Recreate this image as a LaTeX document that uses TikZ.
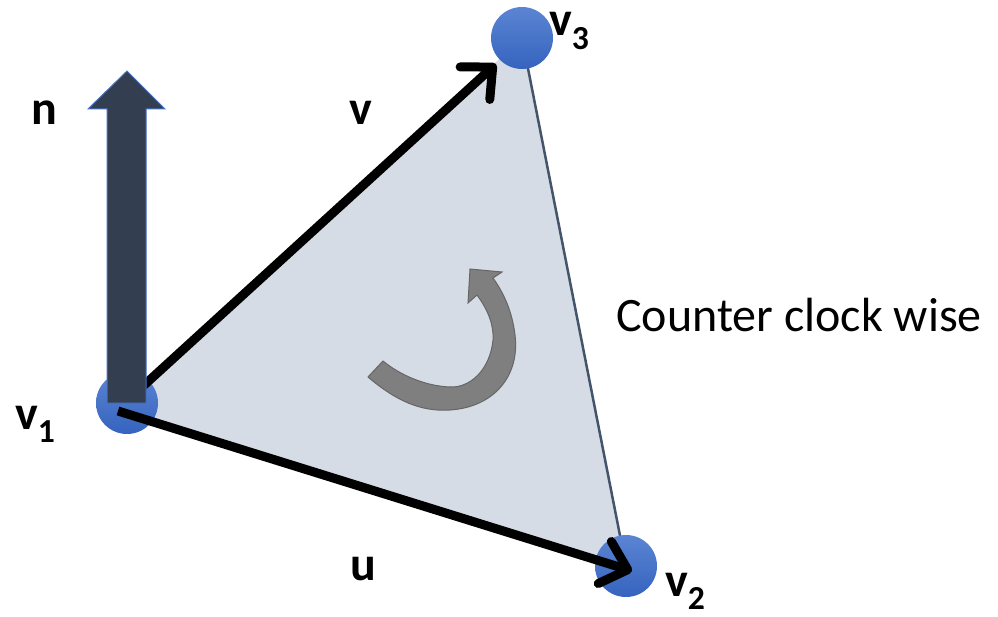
\documentclass[tikz,border=0pt]{standalone}
\usepackage{fontspec}
\setmainfont{Carlito}
\usetikzlibrary{arrows.meta}
\definecolor{trifill}{HTML}{D6DCE5}
\definecolor{triedge}{HTML}{44546A}
\definecolor{ballA}{HTML}{5B85D3}
\definecolor{ballB}{HTML}{3563BE}
\definecolor{nfill}{HTML}{333F50}
\definecolor{nedge}{HTML}{4472C4}
\definecolor{curvfill}{HTML}{7F7F7F}
\definecolor{curvedge}{HTML}{666666}
\tikzset{
  ball/.style={circle, minimum size=62pt, inner sep=0pt, top color=ballA, bottom color=ballB, draw=none},
  vec/.style={line width=9pt, -{Straight Barb[length=24pt,width=44pt,round]}},
  lbl/.style={font=\fontsize{48}{56}\selectfont\bfseries, inner sep=0pt, anchor=base west},
  txt/.style={font=\fontsize{48}{56}\selectfont, inner sep=0pt, anchor=base west}
}
\begin{document}
\begin{tikzpicture}[x=1pt,y=-1pt]
\useasboundingbox (0,0) rectangle (998,617);
% vertices
\coordinate (p1) at (127,403);
\coordinate (p2) at (626,566);
\coordinate (p3) at (522,38);
\coordinate (s1) at (130,398);
\coordinate (t3) at (496,64);
\coordinate (s2) at (118,411);
\coordinate (t2) at (632,571);
\fill[trifill] (s2) -- (p2) -- (p3) -- (s1) -- cycle;
\draw[triedge, line width=2.5pt] (p3) -- (p2);
% curved arrow
\filldraw[fill=curvfill, draw=curvedge, line width=1pt, line join=miter]
 (368,377) .. controls (395,400) and (420,412) .. (450,410)
 .. controls (495,407) and (520,375) .. (515,335)
 .. controls (512,310) and (503,292) .. (493,278)
 -- (502,272) -- (470,269) -- (468,303) -- (477,295)
 .. controls (488,310) and (494,325) .. (493,340)
 .. controls (490,370) and (470,388) .. (450,387)
 .. controls (425,386) and (400,375) .. (383,361) -- cycle;
% balls
\node[ball] (v1) at (p1) {};
\node[ball] (v2) at (p2) {};
\node[ball] (v3) at (p3) {};
% vectors
\draw[vec] (s1) -- (t3);
\draw[vec] (s2) -- (t2);
% normal block arrow
\filldraw[fill=nfill, draw=nedge, line width=1pt, line join=miter]
 (107,403) -- (107,109) -- (88,109) -- (127,71) -- (165,109) -- (146,109) -- (146,403) -- cycle;
% labels
\node[lbl] (ln) at (31,125) {n};
\node[lbl] (lv) at (349,125) {v};
\node[lbl] (lu) at (350,580) {u};
\node[lbl] (lv1) at (15,429) {v\textsubscript{1}};
\node[lbl] (lv3) at (549,36) {v\textsubscript{3}};
\node[lbl] (lv2) at (665,596) {v\textsubscript{2}};
\node[txt] (ccw) at (616,331) {Counter clock wise};
\end{tikzpicture}
\end{document}
